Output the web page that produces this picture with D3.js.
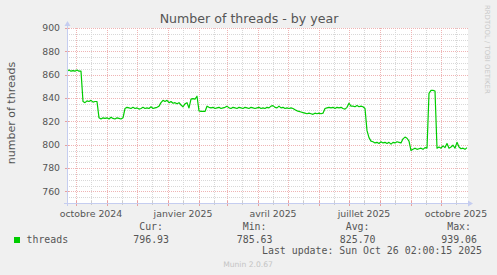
<!DOCTYPE html>
<html><head><meta charset="utf-8">
<script src="https://cdn.jsdelivr.net/npm/d3@7"></script>
<style>body{margin:0;background:#f0f0f0;overflow:hidden} svg{display:block}</style>
</head><body><svg id="c" width="497" height="275"></svg>
<script>
const title = "Number of threads - by year";
const yLabel = "number of threads";
const startDate = "2024-09-22";
const endDate = "2025-10-27";
const stepDays = 2;
// one sample every 2 days
const threads = [
863,864,863,863.5,863,864,863,863,
837,836,837.5,837,838,836.5,837,837,
823,822,823,822.5,823,822,823.5,822.5,822,823,822.5,822,823,
831,832,831.5,831,832,831,831.5,830.5,831,832,831,831.5,831,832.5,831,831.5,832,
833,836,838,837,838,836,837,835.5,836,835,836,834,832.5,835,836,831.5,839,839.5,839,841.5,
829,828.5,828.5,828.5,833,832,
831.5,832,831,831.5,832,831,831.5,832,833,831.5,831,832,831.5,831,832,831.5,831,832,831.5,831,
832,831.5,831,831.5,832,831,831.5,831,832,831.5,833,833.5,832,831.5,833,831.5,832,831,831.5,831,831.5,831,
830,829,828.5,828,
827.5,827,826.5,827,826.5,826,827,826.5,827,826.5,827,
831,831.5,832,831.5,832,831,832,831.5,832,831,830.5,832,
835.5,833,833,832.5,833.5,832.5,833,832.5,
831,812,806,803,
802.5,801.5,802,801,802.5,801.5,802,801,802,800.5,802,801.5,802.5,802,801.5,
805,806.5,805.5,803,
795,796,797,796,796.5,797,796,797.5,797,
844,846.5,846.5,846,
797,798,797,799,797.5,801,797,798,799.5,797,802,798,796.5,797,796,797.5
];
const yTicks = [760,780,800,820,840,860,880,900];
const yMinorStep = 5;
const yDomain = [750, 900];
const xLabels = [
  {date:"2024-10-01", text:"octobre 2024"},
  {date:"2025-01-01", text:"janvier 2025"},
  {date:"2025-04-01", text:"avril 2025"},
  {date:"2025-07-01", text:"juillet 2025"},
  {date:"2025-10-01", text:"octobre 2025"}
];
const seriesName = "threads";
const legendHeaders = ["Cur:", "Min:", "Avg:", "Max:"];
const legendValues = ["796.93", "785.63", "825.70", "939.06"];
const lastUpdate = "Last update: Sun Oct 26 02:00:15 2025";
const watermark = "RRDTOOL / TOBI OETIKER";
const footer = "Munin 2.0.67";

const svg = d3.select("#c");
const W = 497, H = 275;
const L = 67, R = 467, T = 28, B = 203;
const pd = s => new Date(s + "T00:00:00Z");
const x = d3.scaleUtc().domain([pd(startDate), pd(endDate)]).range([L, R]);
const y = d3.scaleLinear().domain(yDomain).range([B, T]);

svg.append("rect").attr("width", W).attr("height", H).attr("fill", "#f0f0f0");
svg.append("rect").attr("x", L).attr("y", T).attr("width", R - L + 1).attr("height", B - T).attr("fill", "#fff");

const g = svg.append("g");
const gridGray = "#d8d8d8", gridRed = "#efb4b4";
// horizontal minor grid
const yMinor = d3.range(yDomain[0] + yMinorStep, yDomain[1] + 0.1, yMinorStep).filter(v => !yTicks.includes(v));
g.selectAll(".hm").data(yMinor).join("line")
  .attr("x1", L).attr("x2", R + 1).attr("y1", d => Math.round(y(d)) + 0.5).attr("y2", d => Math.round(y(d)) + 0.5)
  .attr("stroke", gridGray).attr("stroke-dasharray", "1,1");
// vertical minor grid (mid-month)
const months = d3.utcMonth.range(x.domain()[0], x.domain()[1]);
const mids = d3.utcMonth.range(d3.utcMonth.floor(x.domain()[0]), x.domain()[1]).map(m => d3.utcDay.offset(m, 15)).filter(d => d > x.domain()[0] && d < x.domain()[1]);
g.selectAll(".vm").data(mids).join("line")
  .attr("x1", d => Math.round(x(d)) + 0.5).attr("x2", d => Math.round(x(d)) + 0.5).attr("y1", T).attr("y2", B)
  .attr("stroke", gridGray).attr("stroke-dasharray", "1,1");
// major grid
g.selectAll(".hM").data(yTicks).join("line")
  .attr("x1", L).attr("x2", R + 1).attr("y1", d => Math.round(y(d)) + 0.5).attr("y2", d => Math.round(y(d)) + 0.5)
  .attr("stroke", gridRed).attr("stroke-dasharray", "1,1");
g.selectAll(".vM").data(months).join("line")
  .attr("x1", d => Math.round(x(d)) + 0.5).attr("x2", d => Math.round(x(d)) + 0.5).attr("y1", T).attr("y2", B)
  .attr("stroke", gridRed).attr("stroke-dasharray", "1,1");
// ticks on axes
g.selectAll(".tm").data(mids).join("line")
  .attr("x1", d => Math.round(x(d)) + 0.5).attr("x2", d => Math.round(x(d)) + 0.5).attr("y1", B - 2).attr("y2", B + 2)
  .attr("stroke", "#cccccc");
g.selectAll(".tM").data(months).join("line")
  .attr("x1", d => Math.round(x(d)) + 0.5).attr("x2", d => Math.round(x(d)) + 0.5).attr("y1", B - 2).attr("y2", B + 3)
  .attr("stroke", "#e8a0a0");
g.selectAll(".ty").data(yTicks).join("line")
  .attr("x1", L - 2).attr("x2", L + 2).attr("y1", d => Math.round(y(d)) + 0.5).attr("y2", d => Math.round(y(d)) + 0.5)
  .attr("stroke", "#e8a0a0");

// data line
const line = d3.line()
  .x((d, i) => x(d3.utcDay.offset(pd(startDate), i * stepDays)))
  .y(d => y(d));
svg.append("path").datum(threads).attr("d", line)
  .attr("fill", "none").attr("stroke", "#00cc00").attr("stroke-width", 1.2).attr("stroke-linejoin", "round");

// axes
const axc = "#c5cdf0";
svg.append("line").attr("x1", L + 0.5).attr("x2", L + 0.5).attr("y1", B + 3).attr("y2", T - 3).attr("stroke", axc);
svg.append("line").attr("x1", L - 3).attr("x2", R + 2).attr("y1", B + 0.5).attr("y2", B + 0.5).attr("stroke", axc);
svg.append("path").attr("d", `M${L - 2.5},${T - 2} L${L + 3.5},${T - 2} L${L + 0.5},${T - 7} Z`).attr("fill", axc);
svg.append("path").attr("d", `M${R + 1},${B - 2.5} L${R + 1},${B + 3.5} L${R + 6},${B + 0.5} Z`).attr("fill", axc);

const tc = "#555";
const sans = "DejaVu Sans";
const mono = "DejaVu Sans Mono";
// y labels
svg.selectAll(".yl").data(yTicks).join("text")
  .attr("x", 60).attr("y", d => y(d)).attr("dy", "0.35em").attr("text-anchor", "end")
  .attr("font-family", sans).attr("font-size", 9.3).attr("fill", tc).text(d => d);
// x labels
svg.selectAll(".xl").data(xLabels).join("text")
  .attr("x", d => x(d3.utcDay.offset(pd(d.date), 15))).attr("y", 216.5).attr("text-anchor", "middle")
  .attr("font-family", sans).attr("font-size", 9.4).attr("fill", tc).text(d => d.text);
// title
svg.append("text").attr("x", 249).attr("y", 23).attr("text-anchor", "middle")
  .attr("font-family", sans).attr("font-size", 12.6).attr("fill", "#555").text(title);
// y axis title
svg.append("text").attr("transform", "translate(15,113) rotate(-90)").attr("text-anchor", "middle")
  .attr("font-family", sans).attr("font-size", 11).attr("fill", tc).text(yLabel);
// watermark
svg.append("text").attr("transform", "translate(485,5) rotate(90)").attr("text-anchor", "start")
  .attr("font-family", sans).attr("font-size", 6.9).attr("fill", "#c8c8c8").text(watermark);

// legend
svg.append("rect").attr("x", 14).attr("y", 237).attr("width", 6).attr("height", 6).attr("fill", "#00cc00");
svg.append("text").attr("x", 26.5).attr("y", 242.7).attr("font-family", mono).attr("font-size", 9.9).attr("fill", tc).text(seriesName);
const colEnd = [169, 272.5, 375.5, 477];
svg.selectAll(".lh").data(legendHeaders).join("text")
  .attr("x", (d, i) => colEnd[i] - 6).attr("y", 230).attr("text-anchor", "end")
  .attr("font-family", mono).attr("font-size", 9.9).attr("fill", tc).text(d => d);
svg.selectAll(".lv").data(legendValues).join("text")
  .attr("x", (d, i) => colEnd[i]).attr("y", 242.7).attr("text-anchor", "end")
  .attr("font-family", mono).attr("font-size", 9.9).attr("fill", tc).text(d => d);
svg.append("text").attr("x", 482).attr("y", 254.3).attr("text-anchor", "end")
  .attr("font-family", mono).attr("font-size", 9.9).attr("fill", tc).text(lastUpdate);
svg.append("text").attr("x", 248).attr("y", 266.5).attr("text-anchor", "middle")
  .attr("font-family", sans).attr("font-size", 7.6).attr("fill", "#c4c4c4").text(footer);
</script></body></html>
